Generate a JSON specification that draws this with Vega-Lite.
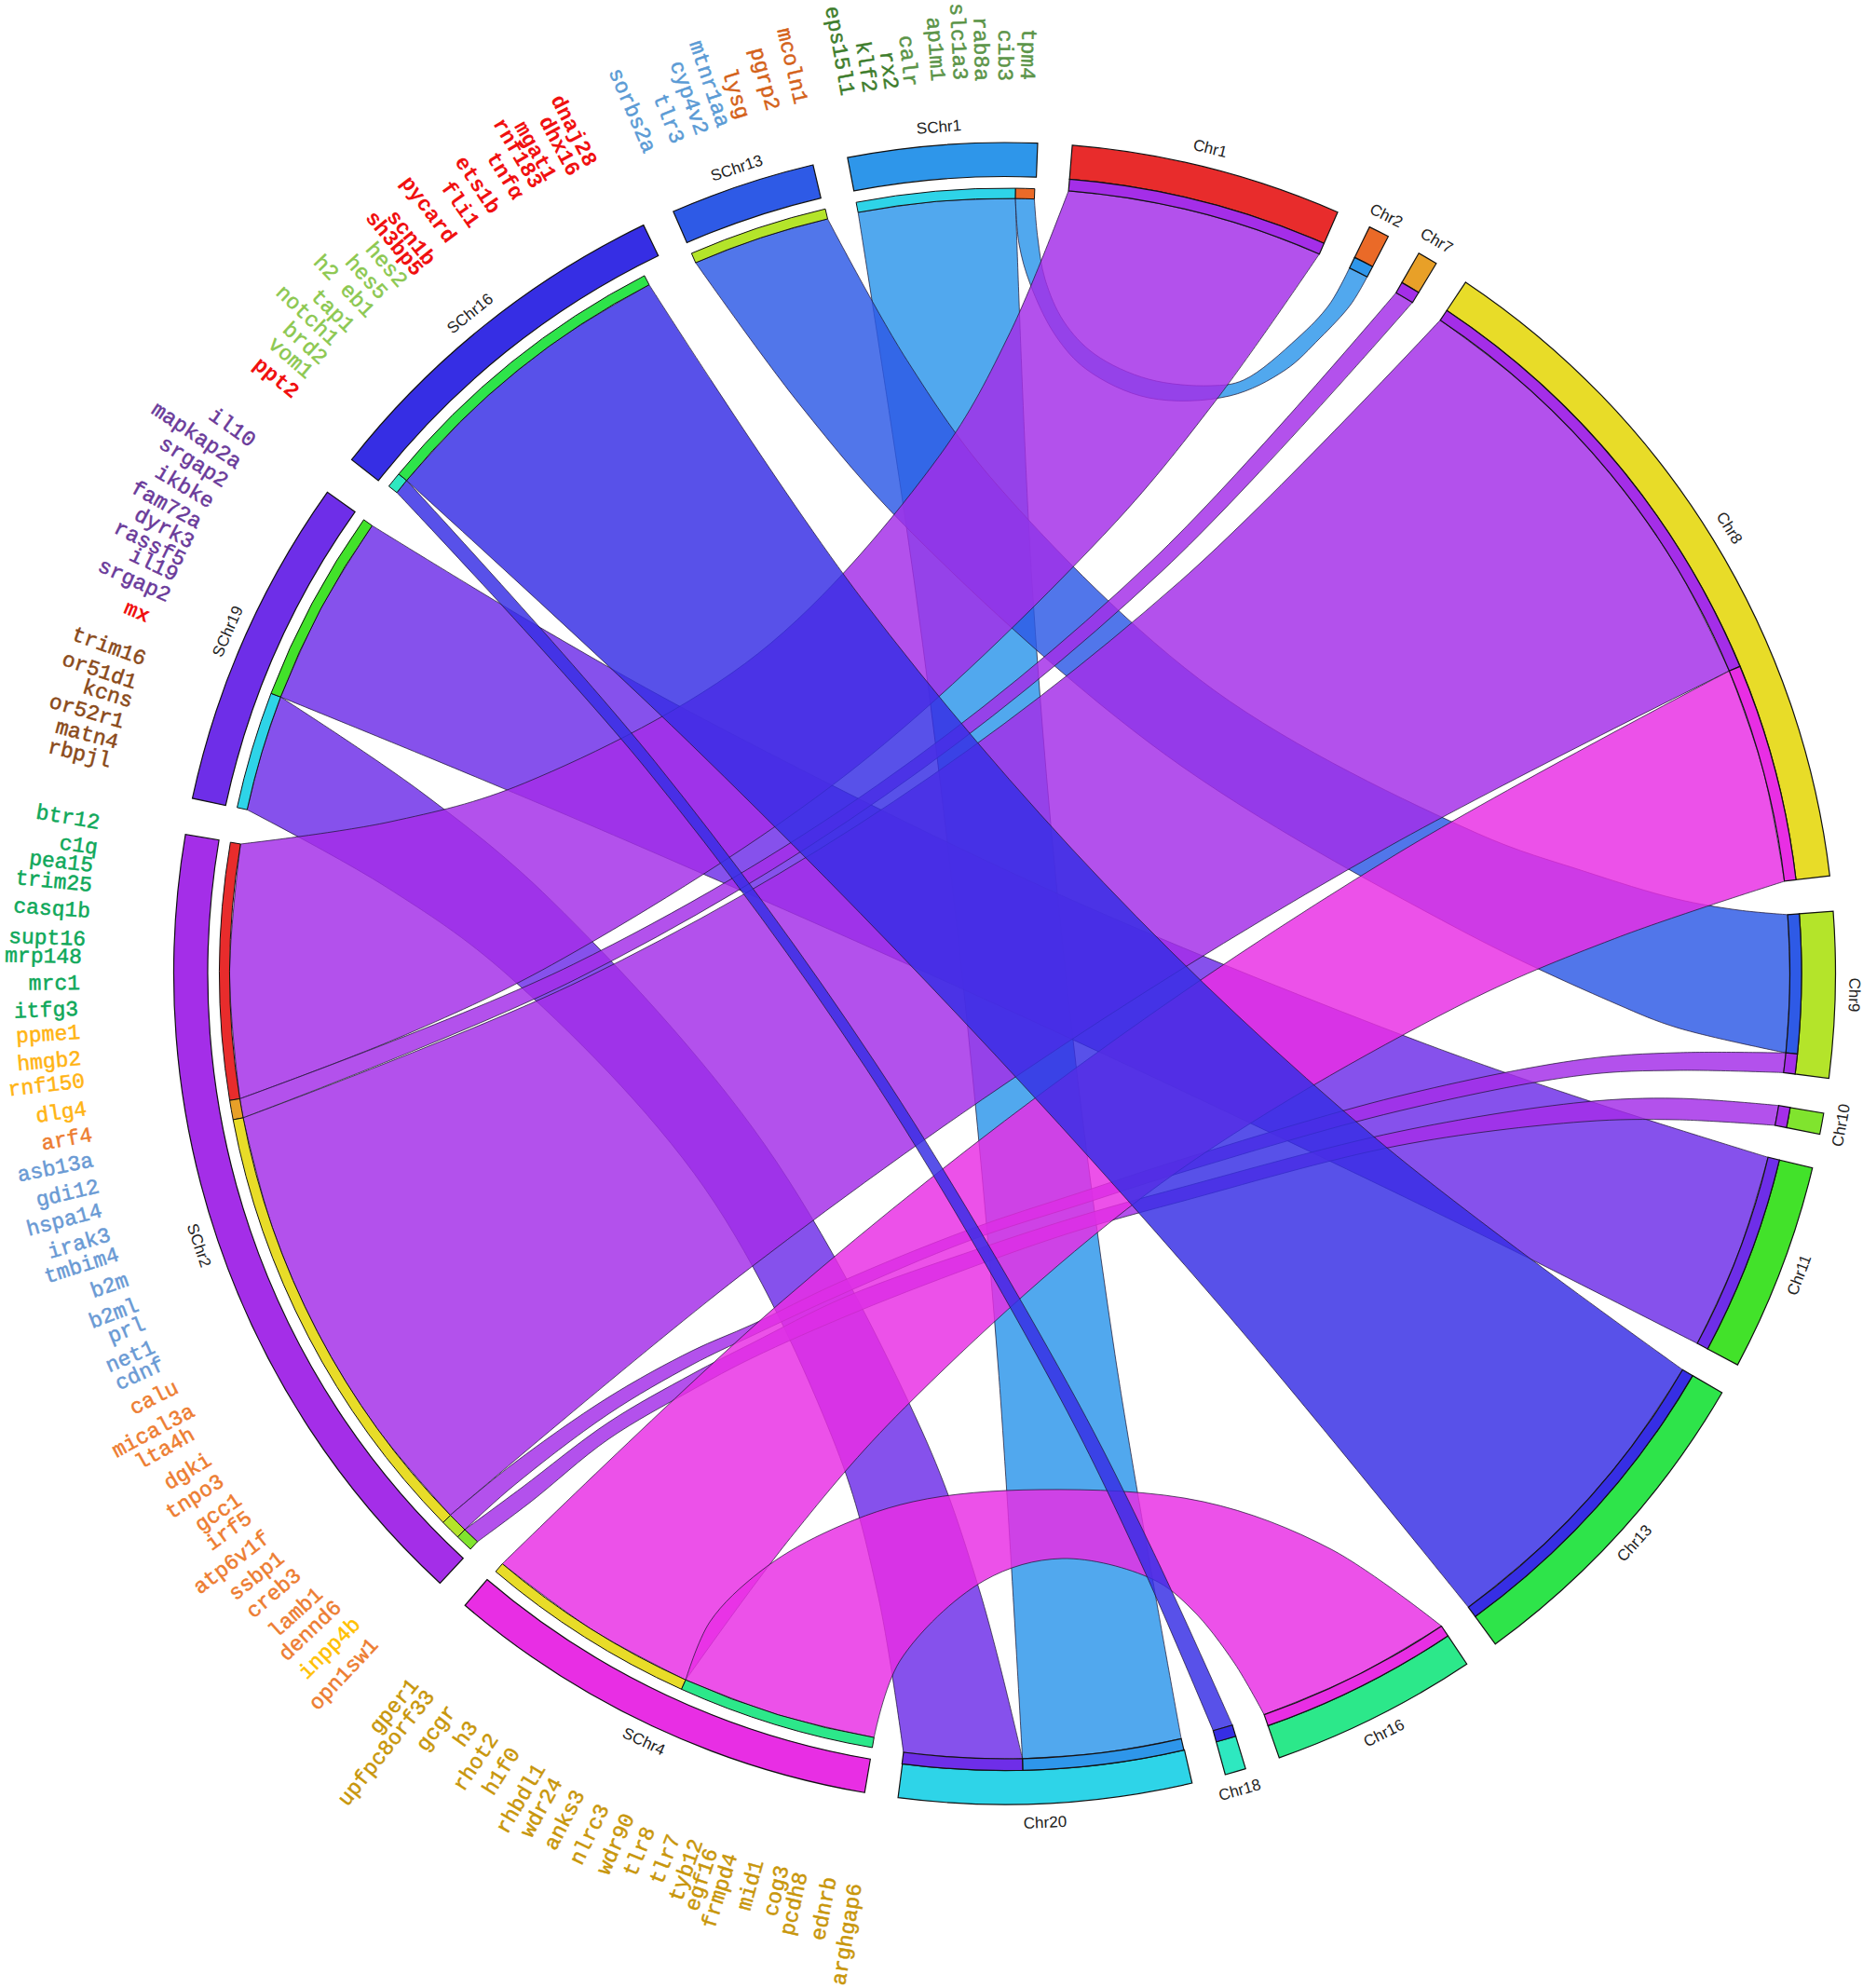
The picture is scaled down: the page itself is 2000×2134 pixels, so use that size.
{"$schema":"https://vega.github.io/schema/vega-lite/v6.json","width":2000,"height":2134,"padding":0,"autosize":{"type":"fit","contains":"padding"},"background":"white","view":{"stroke":null},"config":{"axis":{"disable":true},"legend":{"disable":true}},
"datasets":{
"ring":[{"n":"SChr1","a":349.1,"b":362.28},{"n":"Chr1","a":4.67,"b":23.63},{"n":"Chr2","a":26.05,"b":27.5},{"n":"Chr7","a":29.9,"b":31.3},{"n":"Chr8","a":33.7,"b":83.25},{"n":"Chr9","a":85.7,"b":97.25},{"n":"Chr10","a":99.68,"b":101.15},{"n":"Chr11","a":103.53,"b":118.1},{"n":"Chr13","a":120.3,"b":143.8},{"n":"Chr16","a":146.2,"b":160.7},{"n":"Chr18","a":163.14,"b":164.6},{"n":"Chr20","a":166.96,"b":187.37},{"n":"SChr4","a":189.7,"b":220.5},{"n":"SChr2","a":222.8,"b":279.64},{"n":"SChr19","a":282.17,"b":305.4},{"n":"SChr16","a":308.2,"b":334.24},{"n":"SChr13","a":336.5,"b":346.67}],
"stripS":[{"n":"Chr20","a":349.1,"b":360.8},{"n":"Chr2","a":360.8,"b":362.2},{"n":"Chr1","a":260.7,"b":279.62},{"n":"Chr7","a":259.27,"b":260.7},{"n":"Chr8","a":225.65,"b":259.27},{"n":"Chr9","a":224.15,"b":225.65},{"n":"Chr10","a":222.86,"b":224.15},{"n":"Chr8","a":204.3,"b":220.4},{"n":"Chr16","a":189.7,"b":204.3},{"n":"Chr9","a":336.5,"b":346.8},{"n":"Chr18","a":308.35,"b":309.5},{"n":"Chr13","a":309.5,"b":332.7},{"n":"Chr20","a":282.2,"b":290.9},{"n":"Chr11","a":290.9,"b":305.3}],
"stripC":[{"n":"SChr2","a":4.67,"b":23.63},{"n":"SChr1","a":26.05,"b":27.5},{"n":"SChr2","a":29.9,"b":31.3},{"n":"SChr2","a":33.7,"b":67.34},{"n":"SChr4","a":67.34,"b":83.25},{"n":"SChr13","a":85.7,"b":95.8},{"n":"SChr2","a":95.8,"b":97.25},{"n":"SChr2","a":99.68,"b":101.15},{"n":"SChr19","a":103.53,"b":118.1},{"n":"SChr16","a":120.3,"b":143.8},{"n":"SChr4","a":146.2,"b":160.7},{"n":"SChr16","a":163.14,"b":164.6},{"n":"SChr1","a":167,"b":178.7},{"n":"SChr19","a":178.7,"b":187.4}],
"names":[{"t":"Chr1","x":1299,"y":160},{"t":"Chr2","x":1488,"y":232},{"t":"Chr7","x":1542,"y":259},{"t":"Chr8","x":1856,"y":567},{"t":"Chr9","x":1990,"y":1068},{"t":"Chr10","x":1977,"y":1208},{"t":"Chr11","x":1932,"y":1369},{"t":"Chr13","x":1755,"y":1657},{"t":"Chr16","x":1486,"y":1861},{"t":"Chr18","x":1331,"y":1922},{"t":"Chr20","x":1122,"y":1957},{"t":"SChr4","x":691,"y":1870},{"t":"SChr2","x":213,"y":1337},{"t":"SChr19","x":245,"y":678},{"t":"SChr16","x":505,"y":337},{"t":"SChr13","x":791,"y":181},{"t":"SChr1","x":1008,"y":137}],
"genes":[{"g":"tpm4","c":"olive","x":1103,"y":86},{"g":"cib3","c":"olive","x":1079,"y":87},{"g":"rab8a","c":"olive","x":1054,"y":87},{"g":"slc1a3","c":"olive","x":1031,"y":86},{"g":"ap1m1","c":"olive","x":1007,"y":87},{"g":"calr","c":"olive","x":978,"y":93},{"g":"rx2","c":"dolive","x":957,"y":96},{"g":"klf2","c":"dolive","x":934,"y":99},{"g":"eps15l1","c":"dolive","x":910,"y":102},{"g":"mcoln1","c":"rust","x":860,"y":111},{"g":"pgrp2","c":"rust","x":830,"y":118},{"g":"lysg","c":"rust","x":798,"y":127},{"g":"mtnr1aa","c":"sky","x":777,"y":136},{"g":"cyp4v2","c":"sky","x":754,"y":144},{"g":"tlr3","c":"sky","x":728,"y":153},{"g":"sorbs2a","c":"sky","x":698,"y":163},{"g":"dnaj28","c":"red","x":635,"y":177},{"g":"dhx16","c":"red","x":617,"y":187},{"g":"mgat1","c":"red","x":592,"y":192},{"g":"rnf183","c":"red","x":577,"y":200},{"g":"tnfα","c":"red","x":557,"y":212},{"g":"ets1b","c":"red","x":532,"y":227},{"g":"fli1","c":"red","x":510,"y":242},{"g":"pycard","c":"red","x":485,"y":258},{"g":"scn1b","c":"red","x":463,"y":282},{"g":"sh3bp5","c":"red","x":450,"y":293},{"g":"hes2","c":"lime","x":433,"y":305},{"g":"hes5","c":"lime","x":412,"y":318},{"g":"h2 eb1","c":"lime","x":398,"y":337},{"g":"tap1","c":"lime","x":377,"y":353},{"g":"notch1","c":"lime","x":360,"y":367},{"g":"brd2","c":"lime","x":348,"y":387},{"g":"vom1","c":"lime","x":333,"y":402},{"g":"ppt2","c":"red","x":318,"y":423},{"g":"il10","c":"violet","x":272,"y":475},{"g":"mapkap2a","c":"violet","x":257,"y":498},{"g":"srgap2","c":"violet","x":243,"y":518},{"g":"ikbke","c":"violet","x":228,"y":540},{"g":"fam72a","c":"violet","x":215,"y":562},{"g":"dyrk3","c":"violet","x":207,"y":583},{"g":"rassf5","c":"violet","x":198,"y":602},{"g":"il19","c":"violet","x":190,"y":618},{"g":"srgap2","c":"violet","x":182,"y":640},{"g":"mx","c":"red","x":160,"y":662},{"g":"trim16","c":"brown","x":156,"y":708},{"g":"or51d1","c":"brown","x":146,"y":733},{"g":"kcns","c":"brown","x":142,"y":753},{"g":"or52r1","c":"brown","x":133,"y":775},{"g":"matn4","c":"brown","x":127,"y":797},{"g":"rbpjl","c":"brown","x":119,"y":817},{"g":"btr12","c":"green","x":107,"y":883},{"g":"c1q","c":"green","x":105,"y":910},{"g":"pea15","c":"green","x":100,"y":929},{"g":"trim25","c":"green","x":99,"y":950},{"g":"casq1b","c":"green","x":97,"y":978},{"g":"supt16","c":"green","x":92,"y":1008},{"g":"mrp148","c":"green","x":88,"y":1027},{"g":"mrc1","c":"green","x":86,"y":1055},{"g":"itfg3","c":"green","x":84,"y":1083},{"g":"ppme1","c":"amber","x":86,"y":1108},{"g":"hmgb2","c":"amber","x":87,"y":1136},{"g":"rnf150","c":"amber","x":91,"y":1160},{"g":"dlg4","c":"amber","x":93,"y":1190},{"g":"arf4","c":"orange","x":99,"y":1218},{"g":"asb13a","c":"blue","x":100,"y":1245},{"g":"gdi12","c":"blue","x":106,"y":1273},{"g":"hspa14","c":"blue","x":109,"y":1299},{"g":"irak3","c":"blue","x":118,"y":1325},{"g":"tmbim4","c":"blue","x":127,"y":1346},{"g":"b2m","c":"blue","x":137,"y":1373},{"g":"b2ml","c":"blue","x":148,"y":1400},{"g":"prl","c":"blue","x":155,"y":1420},{"g":"net1","c":"blue","x":165,"y":1445},{"g":"cdnf","c":"blue","x":175,"y":1463},{"g":"calu","c":"orange","x":190,"y":1488},{"g":"mical3a","c":"orange","x":207,"y":1513},{"g":"lta4h","c":"orange","x":207,"y":1538},{"g":"dgki","c":"orange","x":225,"y":1565},{"g":"tnpo3","c":"orange","x":238,"y":1588},{"g":"gcc1","c":"orange","x":257,"y":1608},{"g":"irf5","c":"orange","x":268,"y":1627},{"g":"atp6v1f","c":"orange","x":287,"y":1648},{"g":"ssbp1","c":"orange","x":302,"y":1670},{"g":"creb3","c":"orange","x":320,"y":1688},{"g":"lamb1","c":"orange","x":343,"y":1708},{"g":"dennd6","c":"orange","x":363,"y":1722},{"g":"inpp4b","c":"yellow","x":383,"y":1740},{"g":"opn1sw1","c":"orange","x":402,"y":1762},{"g":"gper1","c":"gold","x":445,"y":1805},{"g":"upfpc8orf33","c":"gold","x":462,"y":1817},{"g":"gcgr","c":"gold","x":485,"y":1833},{"g":"h3","c":"gold","x":508,"y":1850},{"g":"rhot2","c":"gold","x":530,"y":1863},{"g":"h1f0","c":"gold","x":553,"y":1878},{"g":"rhbdl1","c":"gold","x":580,"y":1895},{"g":"wdr24","c":"gold","x":598,"y":1910},{"g":"anks3","c":"gold","x":622,"y":1923},{"g":"nlrc3","c":"gold","x":648,"y":1938},{"g":"wdr90","c":"gold","x":675,"y":1948},{"g":"tlr8","c":"gold","x":697,"y":1962},{"g":"tlr7","c":"gold","x":724,"y":1970},{"g":"tyb12","c":"gold","x":748,"y":1975},{"g":"egf16","c":"gold","x":764,"y":1985},{"g":"frmpd4","c":"gold","x":785,"y":1990},{"g":"mid1","c":"gold","x":813,"y":1997},{"g":"cog3","c":"gold","x":840,"y":2003},{"g":"pcdh8","c":"gold","x":860,"y":2010},{"g":"ednrb","c":"gold","x":891,"y":2015},{"g":"arghgap6","c":"gold","x":918,"y":2022}],
"ribbons":[
{"r":"1","s":"SChr1","x":921.2,"y":228},{"r":"1","s":"SChr1","x":1006,"y":216.2},{"r":"1","s":"SChr1","x":1090.1,"y":213.1},{"r":"1","s":"SChr1","x":1090.1,"y":213.1},{"r":"1","s":"SChr1","x":1108,"y":627},{"r":"1","s":"SChr1","x":1143.5,"y":1040.4},{"r":"1","s":"SChr1","x":1196.9,"y":1453.6},{"r":"1","s":"SChr1","x":1268.1,"y":1866.4},{"r":"1","s":"SChr1","x":1268.1,"y":1866.4},{"r":"1","s":"SChr1","x":1183.5,"y":1881.4},{"r":"1","s":"SChr1","x":1097.6,"y":1887.8},{"r":"1","s":"SChr1","x":1097.6,"y":1887.8},{"r":"1","s":"SChr1","x":1071.8,"y":1470},{"r":"1","s":"SChr1","x":1033.7,"y":1054},{"r":"1","s":"SChr1","x":983.6,"y":640},{"r":"1","s":"SChr1","x":921.2,"y":228},
{"r":"2","s":"SChr1","x":1090.1,"y":213.1},{"r":"2","s":"SChr1","x":1110.4,"y":213.6},{"r":"2","s":"SChr1","x":1110.4,"y":213.6},{"r":"2","s":"SChr1","x":1114,"y":255},{"r":"2","s":"SChr1","x":1122,"y":300},{"r":"2","s":"SChr1","x":1142,"y":345},{"r":"2","s":"SChr1","x":1175,"y":380},{"r":"2","s":"SChr1","x":1233,"y":407},{"r":"2","s":"SChr1","x":1300,"y":414},{"r":"2","s":"SChr1","x":1335,"y":408},{"r":"2","s":"SChr1","x":1393,"y":363},{"r":"2","s":"SChr1","x":1427,"y":327},{"r":"2","s":"SChr1","x":1448.7,"y":287.6},{"r":"2","s":"SChr1","x":1448.7,"y":287.6},{"r":"2","s":"SChr1","x":1467.7,"y":297.2},{"r":"2","s":"SChr1","x":1467.7,"y":297.2},{"r":"2","s":"SChr1","x":1450,"y":327},{"r":"2","s":"SChr1","x":1417,"y":363},{"r":"2","s":"SChr1","x":1380,"y":397},{"r":"2","s":"SChr1","x":1320,"y":425},{"r":"2","s":"SChr1","x":1233,"y":427},{"r":"2","s":"SChr1","x":1167,"y":397},{"r":"2","s":"SChr1","x":1133,"y":360},{"r":"2","s":"SChr1","x":1106,"y":305},{"r":"2","s":"SChr1","x":1094,"y":262},{"r":"2","s":"SChr1","x":1090.1,"y":213.1},
{"r":"13","s":"SChr19","x":301.3,"y":748.2},{"r":"13","s":"SChr19","x":343.9,"y":654.4},{"r":"13","s":"SChr19","x":399.5,"y":564.2},{"r":"13","s":"SChr19","x":399.5,"y":564.2},{"r":"13","s":"SChr19","x":575.5,"y":671},{"r":"13","s":"SChr19","x":754.7,"y":771.5},{"r":"13","s":"SChr19","x":1122.9,"y":953.7},{"r":"13","s":"SChr19","x":1504.1,"y":1110.6},{"r":"13","s":"SChr19","x":1699.4,"y":1179.6},{"r":"13","s":"SChr19","x":1898.1,"y":1242.3},{"r":"13","s":"SChr19","x":1898.1,"y":1242.3},{"r":"13","s":"SChr19","x":1865.5,"y":1347.1},{"r":"13","s":"SChr19","x":1822.1,"y":1442.1},{"r":"13","s":"SChr19","x":1822.1,"y":1442.1},{"r":"13","s":"SChr19","x":1634,"y":1347},{"r":"13","s":"SChr19","x":1445.7,"y":1255},{"r":"13","s":"SChr19","x":1066.8,"y":1076.9},{"r":"13","s":"SChr19","x":685.4,"y":908},{"r":"13","s":"SChr19","x":493.7,"y":826.9},{"r":"13","s":"SChr19","x":301.3,"y":748.2},
{"r":"14","s":"SChr19","x":265.3,"y":869.2},{"r":"14","s":"SChr19","x":280.8,"y":808.7},{"r":"14","s":"SChr19","x":301.3,"y":748.2},{"r":"14","s":"SChr19","x":301.3,"y":748.2},{"r":"14","s":"SChr19","x":454.1,"y":851.6},{"r":"14","s":"SChr19","x":591.7,"y":966.4},{"r":"14","s":"SChr19","x":821.2,"y":1229},{"r":"14","s":"SChr19","x":989.8,"y":1536.2},{"r":"14","s":"SChr19","x":1051.3,"y":1706.4},{"r":"14","s":"SChr19","x":1097.6,"y":1887.8},{"r":"14","s":"SChr19","x":1097.6,"y":1887.8},{"r":"14","s":"SChr19","x":1034.4,"y":1886.8},{"r":"14","s":"SChr19","x":969.9,"y":1881},{"r":"14","s":"SChr19","x":969.9,"y":1881},{"r":"14","s":"SChr19","x":942.2,"y":1710.8},{"r":"14","s":"SChr19","x":897.3,"y":1552.8},{"r":"14","s":"SChr19","x":756.2,"y":1275},{"r":"14","s":"SChr19","x":545.3,"y":1047},{"r":"14","s":"SChr19","x":414,"y":951.8},{"r":"14","s":"SChr19","x":265.3,"y":869.2},
{"r":"10","s":"SChr13","x":746.8,"y":282},{"r":"10","s":"SChr13","x":815.9,"y":255.5},{"r":"10","s":"SChr13","x":888.5,"y":235},{"r":"10","s":"SChr13","x":888.5,"y":235},{"r":"10","s":"SChr13","x":973.5,"y":386.4},{"r":"10","s":"SChr13","x":1071.2,"y":521.4},{"r":"10","s":"SChr13","x":1303.9,"y":741.3},{"r":"10","s":"SChr13","x":1586.5,"y":894.8},{"r":"10","s":"SChr13","x":1700,"y":935},{"r":"10","s":"SChr13","x":1800,"y":965},{"r":"10","s":"SChr13","x":1867,"y":977},{"r":"10","s":"SChr13","x":1919.1,"y":981.8},{"r":"10","s":"SChr13","x":1919.1,"y":981.8},{"r":"10","s":"SChr13","x":1921.4,"y":1056},{"r":"10","s":"SChr13","x":1917.2,"y":1130.2},{"r":"10","s":"SChr13","x":1917.2,"y":1130.2},{"r":"10","s":"SChr13","x":1800,"y":1103},{"r":"10","s":"SChr13","x":1736,"y":1078},{"r":"10","s":"SChr13","x":1564.9,"y":996.8},{"r":"10","s":"SChr13","x":1252.5,"y":811.1},{"r":"10","s":"SChr13","x":979.7,"y":572.7},{"r":"10","s":"SChr13","x":858.3,"y":433.9},{"r":"10","s":"SChr13","x":746.8,"y":282},
{"r":"3","s":"SChr2","x":258.2,"y":906},{"r":"3","s":"SChr2","x":246.5,"y":1045},{"r":"3","s":"SChr2","x":257.4,"y":1179.5},{"r":"3","s":"SChr2","x":257.4,"y":1179.5},{"r":"3","s":"SChr2","x":435.6,"y":1110.7},{"r":"3","s":"SChr2","x":604.1,"y":1029.1},{"r":"3","s":"SChr2","x":913,"y":828},{"r":"3","s":"SChr2","x":1183.6,"y":575.6},{"r":"3","s":"SChr2","x":1304.8,"y":430.5},{"r":"3","s":"SChr2","x":1416.4,"y":272.6},{"r":"3","s":"SChr2","x":1416.4,"y":272.6},{"r":"3","s":"SChr2","x":1351.5,"y":247.4},{"r":"3","s":"SChr2","x":1284.6,"y":227.5},{"r":"3","s":"SChr2","x":1216.2,"y":213.3},{"r":"3","s":"SChr2","x":1147.1,"y":204.8},{"r":"3","s":"SChr2","x":1147.1,"y":204.8},{"r":"3","s":"SChr2","x":1084.6,"y":356.4},{"r":"3","s":"SChr2","x":1008.2,"y":489.7},{"r":"3","s":"SChr2","x":813.9,"y":701.5},{"r":"3","s":"SChr2","x":563.8,"y":840.3},{"r":"3","s":"SChr2","x":418,"y":882.3},{"r":"3","s":"SChr2","x":258.2,"y":906},
{"r":"4","s":"SChr2","x":261,"y":1199.9},{"r":"4","s":"SChr2","x":257.4,"y":1179.5},{"r":"4","s":"SChr2","x":257.4,"y":1179.5},{"r":"4","s":"SChr2","x":615.4,"y":1035.2},{"r":"4","s":"SChr2","x":941.7,"y":843},{"r":"4","s":"SChr2","x":1236,"y":602.5},{"r":"4","s":"SChr2","x":1498.7,"y":314.2},{"r":"4","s":"SChr2","x":1498.7,"y":314.2},{"r":"4","s":"SChr2","x":1516.4,"y":324.6},{"r":"4","s":"SChr2","x":1516.4,"y":324.6},{"r":"4","s":"SChr2","x":1248.1,"y":612.5},{"r":"4","s":"SChr2","x":949.5,"y":854.4},{"r":"4","s":"SChr2","x":620.4,"y":1050.1},{"r":"4","s":"SChr2","x":261,"y":1199.9},
{"r":"5","s":"SChr2","x":483.4,"y":1626.4},{"r":"5","s":"SChr2","x":405.4,"y":1534},{"r":"5","s":"SChr2","x":340.5,"y":1429.1},{"r":"5","s":"SChr2","x":291.9,"y":1315.9},{"r":"5","s":"SChr2","x":261,"y":1199.9},{"r":"5","s":"SChr2","x":261,"y":1199.9},{"r":"5","s":"SChr2","x":624,"y":1052.3},{"r":"5","s":"SChr2","x":959.4,"y":860.4},{"r":"5","s":"SChr2","x":1266.6,"y":624.2},{"r":"5","s":"SChr2","x":1546.2,"y":343.6},{"r":"5","s":"SChr2","x":1546.2,"y":343.6},{"r":"5","s":"SChr2","x":1642.6,"y":418.5},{"r":"5","s":"SChr2","x":1729,"y":508.8},{"r":"5","s":"SChr2","x":1801.1,"y":610.9},{"r":"5","s":"SChr2","x":1856.4,"y":720.2},{"r":"5","s":"SChr2","x":1856.4,"y":720.2},{"r":"5","s":"SChr2","x":1490.7,"y":908.8},{"r":"5","s":"SChr2","x":1140,"y":1122.7},{"r":"5","s":"SChr2","x":804.2,"y":1361.9},{"r":"5","s":"SChr2","x":483.4,"y":1626.4},
{"r":"6","s":"SChr2","x":483.4,"y":1626.4},{"r":"6","s":"SChr2","x":550,"y":1572},{"r":"6","s":"SChr2","x":653,"y":1500},{"r":"6","s":"SChr2","x":743,"y":1450},{"r":"6","s":"SChr2","x":807,"y":1422},{"r":"6","s":"SChr2","x":900,"y":1377},{"r":"6","s":"SChr2","x":1040,"y":1320},{"r":"6","s":"SChr2","x":1160,"y":1280},{"r":"6","s":"SChr2","x":1267,"y":1245},{"r":"6","s":"SChr2","x":1500,"y":1177},{"r":"6","s":"SChr2","x":1700,"y":1137},{"r":"6","s":"SChr2","x":1800,"y":1130},{"r":"6","s":"SChr2","x":1917.2,"y":1130.2},{"r":"6","s":"SChr2","x":1917.2,"y":1130.2},{"r":"6","s":"SChr2","x":1914.8,"y":1151.4},{"r":"6","s":"SChr2","x":1914.8,"y":1151.4},{"r":"6","s":"SChr2","x":1800,"y":1149},{"r":"6","s":"SChr2","x":1700,"y":1154},{"r":"6","s":"SChr2","x":1500,"y":1193},{"r":"6","s":"SChr2","x":1267,"y":1259},{"r":"6","s":"SChr2","x":1160,"y":1293},{"r":"6","s":"SChr2","x":1040,"y":1332},{"r":"6","s":"SChr2","x":902,"y":1390},{"r":"6","s":"SChr2","x":807,"y":1434},{"r":"6","s":"SChr2","x":743,"y":1465},{"r":"6","s":"SChr2","x":653,"y":1518},{"r":"6","s":"SChr2","x":550,"y":1596},{"r":"6","s":"SChr2","x":499,"y":1642},{"r":"6","s":"SChr2","x":499,"y":1642},{"r":"6","s":"SChr2","x":483.4,"y":1626.4},
{"r":"7","s":"SChr2","x":499,"y":1642},{"r":"7","s":"SChr2","x":560,"y":1597},{"r":"7","s":"SChr2","x":653,"y":1527},{"r":"7","s":"SChr2","x":743,"y":1475},{"r":"7","s":"SChr2","x":807,"y":1442},{"r":"7","s":"SChr2","x":908,"y":1392},{"r":"7","s":"SChr2","x":1052,"y":1340},{"r":"7","s":"SChr2","x":1160,"y":1305},{"r":"7","s":"SChr2","x":1267,"y":1275},{"r":"7","s":"SChr2","x":1500,"y":1215},{"r":"7","s":"SChr2","x":1700,"y":1183},{"r":"7","s":"SChr2","x":1800,"y":1179},{"r":"7","s":"SChr2","x":1909.5,"y":1186.7},{"r":"7","s":"SChr2","x":1909.5,"y":1186.7},{"r":"7","s":"SChr2","x":1905.6,"y":1208},{"r":"7","s":"SChr2","x":1905.6,"y":1208},{"r":"7","s":"SChr2","x":1800,"y":1202},{"r":"7","s":"SChr2","x":1700,"y":1204},{"r":"7","s":"SChr2","x":1500,"y":1230},{"r":"7","s":"SChr2","x":1267,"y":1290},{"r":"7","s":"SChr2","x":1160,"y":1320},{"r":"7","s":"SChr2","x":1063,"y":1353},{"r":"7","s":"SChr2","x":920,"y":1408},{"r":"7","s":"SChr2","x":807,"y":1458},{"r":"7","s":"SChr2","x":743,"y":1492},{"r":"7","s":"SChr2","x":653,"y":1545},{"r":"7","s":"SChr2","x":570,"y":1612},{"r":"7","s":"SChr2","x":512.6,"y":1654.9},{"r":"7","s":"SChr2","x":512.6,"y":1654.9},{"r":"7","s":"SChr2","x":499,"y":1642},
{"r":"8","s":"SChr4","x":539.3,"y":1678.6},{"r":"8","s":"SChr4","x":637.6,"y":1750.5},{"r":"8","s":"SChr4","x":736.1,"y":1803.3},{"r":"8","s":"SChr4","x":736.1,"y":1803.3},{"r":"8","s":"SChr4","x":848.8,"y":1650.5},{"r":"8","s":"SChr4","x":971.4,"y":1510.8},{"r":"8","s":"SChr4","x":1246.4,"y":1270.3},{"r":"8","s":"SChr4","x":1561.2,"y":1082.1},{"r":"8","s":"SChr4","x":1733.5,"y":1007.5},{"r":"8","s":"SChr4","x":1915.7,"y":946},{"r":"8","s":"SChr4","x":1915.7,"y":946},{"r":"8","s":"SChr4","x":1892.8,"y":826.8},{"r":"8","s":"SChr4","x":1856.4,"y":720.2},{"r":"8","s":"SChr4","x":1856.4,"y":720.2},{"r":"8","s":"SChr4","x":1498.9,"y":917},{"r":"8","s":"SChr4","x":1160.3,"y":1142.5},{"r":"8","s":"SChr4","x":840.4,"y":1396},{"r":"8","s":"SChr4","x":539.3,"y":1678.6},
{"r":"9","s":"SChr4","x":736.1,"y":1803.3},{"r":"9","s":"SChr4","x":835.2,"y":1840.6},{"r":"9","s":"SChr4","x":938.3,"y":1865.1},{"r":"9","s":"SChr4","x":938.3,"y":1865.1},{"r":"9","s":"SChr4","x":966,"y":1783},{"r":"9","s":"SChr4","x":1056,"y":1697},{"r":"9","s":"SChr4","x":1140,"y":1673},{"r":"9","s":"SChr4","x":1237,"y":1695},{"r":"9","s":"SChr4","x":1280,"y":1728},{"r":"9","s":"SChr4","x":1325,"y":1785},{"r":"9","s":"SChr4","x":1357.1,"y":1840.6},{"r":"9","s":"SChr4","x":1357.1,"y":1840.6},{"r":"9","s":"SChr4","x":1454.6,"y":1799.4},{"r":"9","s":"SChr4","x":1547.5,"y":1745.5},{"r":"9","s":"SChr4","x":1547.5,"y":1745.5},{"r":"9","s":"SChr4","x":1429,"y":1663},{"r":"9","s":"SChr4","x":1292,"y":1612},{"r":"9","s":"SChr4","x":1116,"y":1599},{"r":"9","s":"SChr4","x":980,"y":1612},{"r":"9","s":"SChr4","x":884,"y":1646},{"r":"9","s":"SChr4","x":816,"y":1687},{"r":"9","s":"SChr4","x":762,"y":1741},{"r":"9","s":"SChr4","x":736.1,"y":1803.3},
{"r":"11","s":"SChr16","x":426.1,"y":528.7},{"r":"11","s":"SChr16","x":436.5,"y":515.8},{"r":"11","s":"SChr16","x":436.5,"y":515.8},{"r":"11","s":"SChr16","x":703,"y":817.4},{"r":"11","s":"SChr16","x":939.7,"y":1140.9},{"r":"11","s":"SChr16","x":1146.3,"y":1485.4},{"r":"11","s":"SChr16","x":1238.4,"y":1666.5},{"r":"11","s":"SChr16","x":1323,"y":1851.8},{"r":"11","s":"SChr16","x":1323,"y":1851.8},{"r":"11","s":"SChr16","x":1302.4,"y":1857.7},{"r":"11","s":"SChr16","x":1302.4,"y":1857.7},{"r":"11","s":"SChr16","x":1221.5,"y":1670.8},{"r":"11","s":"SChr16","x":1132.3,"y":1490.1},{"r":"11","s":"SChr16","x":929.6,"y":1146.6},{"r":"11","s":"SChr16","x":694.2,"y":826},{"r":"11","s":"SChr16","x":426.1,"y":528.7},
{"r":"12","s":"SChr16","x":436.5,"y":515.8},{"r":"12","s":"SChr16","x":511.1,"y":436.5},{"r":"12","s":"SChr16","x":601.3,"y":363.4},{"r":"12","s":"SChr16","x":696.9,"y":305.7},{"r":"12","s":"SChr16","x":696.9,"y":305.7},{"r":"12","s":"SChr16","x":924.2,"y":641.5},{"r":"12","s":"SChr16","x":1184.8,"y":947.5},{"r":"12","s":"SChr16","x":1479,"y":1223.7},{"r":"12","s":"SChr16","x":1806.4,"y":1470.3},{"r":"12","s":"SChr16","x":1806.4,"y":1470.3},{"r":"12","s":"SChr16","x":1742.8,"y":1564},{"r":"12","s":"SChr16","x":1664.1,"y":1651.4},{"r":"12","s":"SChr16","x":1576.4,"y":1725.3},{"r":"12","s":"SChr16","x":1576.4,"y":1725.3},{"r":"12","s":"SChr16","x":1310.3,"y":1402.3},{"r":"12","s":"SChr16","x":1031.6,"y":1093.1},{"r":"12","s":"SChr16","x":740.3,"y":797.5},{"r":"12","s":"SChr16","x":436.5,"y":515.8}
]},
"layer":[
{"data":{"name":"ribbons"},"mark":{"type":"line","interpolate":"catmull-rom","order":false,"stroke":"#1c1430","strokeWidth":0.9,"strokeOpacity":0.8,"fillOpacity":0.83},
"encoding":{"x":{"field":"x","type":"quantitative","scale":{"domain":[0,2000],"nice":false,"zero":false}},"y":{"field":"y","type":"quantitative","scale":{"domain":[2134,0],"nice":false,"zero":false}},"detail":{"field":"r"},"fill":{"field":"s","type":"nominal","scale":{"domain":["Chr1","Chr2","Chr7","Chr8","Chr9","Chr10","Chr11","Chr13","Chr16","Chr18","Chr20","SChr1","SChr13","SChr16","SChr19","SChr2","SChr4"],"range":["#e82c2c","#ea6a28","#e8a028","#e8dc28","#b4e42a","#80e42e","#42e22a","#2ee44a","#2ce88a","#2ee8c0","#2ed4e8","#2e96ea","#2e5ae6","#362ee4","#6e2ee8","#a42ee8","#e82ee4"]}}}},
{"data":{"name":"ring"},"mark":{"type":"arc","radius":892,"radius2":855.5,"stroke":"#111","strokeWidth":1.2},
"encoding":{"x":{"datum":1078.5,"type":"quantitative"},"y":{"datum":1045,"type":"quantitative"},"theta":{"field":"a","type":"quantitative","scale":{"domain":[0,360],"range":[0,6.283185]}},"theta2":{"field":"b"},"fill":{"field":"n","type":"nominal"}}},
{"data":{"name":"stripC"},"mark":{"type":"arc","radius":855.5,"radius2":843,"stroke":"#111","strokeWidth":1.2},
"encoding":{"x":{"datum":1078.5,"type":"quantitative"},"y":{"datum":1045,"type":"quantitative"},"theta":{"field":"a","type":"quantitative","scale":{"domain":[0,360],"range":[0,6.283185]}},"theta2":{"field":"b"},"fill":{"field":"n","type":"nominal"}}},
{"data":{"name":"stripS"},"mark":{"type":"arc","radius":843,"radius2":832,"stroke":"#111","strokeWidth":1},
"encoding":{"x":{"datum":1078.5,"type":"quantitative"},"y":{"datum":1045,"type":"quantitative"},"theta":{"field":"a","type":"quantitative","scale":{"domain":[0,360],"range":[0,6.283185]}},"theta2":{"field":"b"},"fill":{"field":"n","type":"nominal"}}},
{"data":{"name":"names"},"transform":[{"calculate":"(atan2(datum.x-1078.5,1045-datum.y)*180/PI+360)%360","as":"th"},{"calculate":"datum.th<=95?datum.th:(datum.th<270?datum.th-180:datum.th-360)","as":"ang"}],"mark":{"type":"text","font":"Liberation Sans","fontSize":17,"fill":"#222","align":"center","baseline":"middle"},
"encoding":{"x":{"field":"x","type":"quantitative"},"y":{"field":"y","type":"quantitative"},"text":{"field":"t"},"angle":{"field":"ang","type":"quantitative","scale":null}}},
{"data":{"name":"genes"},"transform":[{"filter":"datum.c!='red'"},{"calculate":"atan2(1045-datum.y,1078.5-datum.x)*180/PI","as":"ang"}],"mark":{"type":"text","font":"Liberation Mono","fontSize":23,"strokeWidth":0.5,"align":"right","baseline":"middle"},
"encoding":{"x":{"field":"x","type":"quantitative"},"y":{"field":"y","type":"quantitative"},"text":{"field":"g"},"angle":{"field":"ang","type":"quantitative","scale":null},"color":{"field":"c","type":"nominal","scale":{"domain":["olive","dolive","rust","sky","red","lime","violet","brown","green","amber","orange","blue","yellow","gold"],"range":["#5b9448","#3e7d2c","#d4621a","#5b9bd5","#f01010","#8cc850","#6a3a9a","#8a4a1a","#0fa85a","#ffb414","#ed7d31","#6a9ad4","#ffc000","#c8960a"]}},"stroke":{"field":"c","type":"nominal","scale":{"domain":["olive","dolive","rust","sky","red","lime","violet","brown","green","amber","orange","blue","yellow","gold"],"range":["#5b9448","#3e7d2c","#d4621a","#5b9bd5","#f01010","#8cc850","#6a3a9a","#8a4a1a","#0fa85a","#ffb414","#ed7d31","#6a9ad4","#ffc000","#c8960a"]}}}},
{"data":{"name":"genes"},"transform":[{"filter":"datum.c=='red'"},{"calculate":"atan2(1045-datum.y,1078.5-datum.x)*180/PI","as":"ang"}],"mark":{"type":"text","font":"Liberation Mono","fontSize":23,"fontWeight":"bold","align":"right","baseline":"middle"},
"encoding":{"x":{"field":"x","type":"quantitative"},"y":{"field":"y","type":"quantitative"},"text":{"field":"g"},"angle":{"field":"ang","type":"quantitative","scale":null},"color":{"field":"c","type":"nominal"}}}
]}
